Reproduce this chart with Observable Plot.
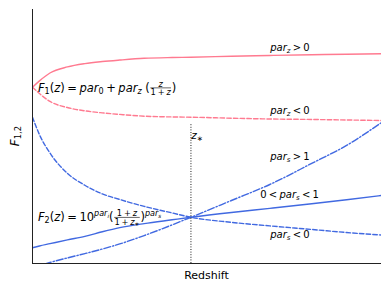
<!DOCTYPE html>
<html>
<head>
<meta charset="utf-8">
<script src="https://cdn.jsdelivr.net/npm/d3@7"></script>
<script src="https://cdn.jsdelivr.net/npm/@observablehq/plot@0.6"></script>
<style>
  html, body { margin: 0; padding: 0; background: #fff; }
  svg { display: block; font-family: "DejaVu Sans", sans-serif; }
</style>
</head>
<body>
<div id="chart"></div>
<script>
// ---- data ----
const redshift = [0, 0.2, 0.5, 1, 1.5, 2, 2.5, 3.2, 4, 4.54, 5.7, 6.8, 8, 9, 10];
const f1ParzPos = [6.94, 7.19, 7.50, 7.74, 7.87, 7.95, 8.01, 8.08, 8.11, 8.12, 8.16, 8.19, 8.22, 8.24, 8.26];
const f1ParzNeg = [6.94, 6.69, 6.38, 6.14, 6.01, 5.93, 5.87, 5.80, 5.77, 5.76, 5.72, 5.69, 5.67, 5.65, 5.63];
const f2ParsNeg = [5.76, 5.07, 4.35, 3.55, 3.08, 2.74, 2.52, 2.25, 1.99, 1.82, 1.62, 1.48, 1.34, 1.22, 1.12];
const f2ParsMid = [0.62, 0.69, 0.78, 0.93, 1.07, 1.25, 1.41, 1.57, 1.72, 1.82, 2.01, 2.17, 2.35, 2.51, 2.68];
const f2ParsBig = [-0.14, -0.08, 0.04, 0.22, 0.39, 0.57, 0.77, 1.10, 1.52, 1.82, 2.48, 3.11, 3.94, 4.65, 5.55];
const zStar = 4.54;
const zStarLineTop = 5.5;

// annotation texts (mini math markup) and their anchors in data units
const annTexts   = ["F_1(z) = par_0 + par_z~(\\frac{z}{1+z})",
                    "F_2(z) = 10^{par_i}(\\frac{1+z}{1+z_*})^{par_s}",
                    "par_z > 0", "par_z < 0", "par_s > 1", "0 < par_s < 1", "par_s < 0", "z_*"];
const annX       = [0.17, 0.17, 7.39, 7.39, 7.39, 7.38, 7.39, 4.56];
const annY       = [6.75, 1.65, 8.35, 5.87, 4.06, 2.56, 0.98, 4.87];
const annAnchor  = ["start", "start", "middle", "middle", "middle", "middle", "middle", "start"];
const annSize    = [11.5, 11.5, 10, 10, 10, 10, 10, 10.5];
const xLabel = "Redshift";
const yLabel = "F_{1,2}";

// ---- series table ----
const pink = "#ff7a90", blue = "#4169e1";
const series = [
  {name: "parz>0", values: f1ParzPos, color: pink, dash: null},
  {name: "parz<0", values: f1ParzNeg, color: pink, dash: "4.5,2.2"},
  {name: "pars<0", values: f2ParsNeg, color: blue, dash: "4.5,2.2"},
  {name: "0<pars<1", values: f2ParsMid, color: blue, dash: null},
  {name: "pars>1", values: f2ParsBig, color: blue, dash: "7,2,1.3,2"}
];

const W = 390, H = 293;
const marks = [];
for (const s of series) {
  const rows = redshift.map((z, i) => ({z, F: s.values[i]}));
  marks.push(Plot.line(rows, {x: "z", y: "F", curve: "monotone-x", stroke: s.color,
    strokeWidth: 1.4, strokeDasharray: s.dash, clip: true}));
}
marks.push(Plot.ruleX([zStar], {y1: 0, y2: zStarLineTop, stroke: "#000", strokeWidth: 0.9, strokeDasharray: "1,1.6"}));
marks.push(Plot.ruleX([0], {stroke: "#222", strokeWidth: 1}));
marks.push(Plot.ruleY([0], {stroke: "#222", strokeWidth: 1}));

const plot = Plot.plot({
  width: W, height: H,
  marginLeft: 32, marginRight: 9, marginTop: 9, marginBottom: 30,
  x: {domain: [0, 10], axis: null},
  y: {domain: [0, 10], axis: null},
  style: {background: "#fff", fontFamily: "DejaVu Sans"},
  marks
});
document.getElementById("chart").appendChild(plot);

// ---- small math-text renderer ----
const svgNS = "http://www.w3.org/2000/svg";
function mkText(s, size, it, fill) {
  const t = document.createElementNS(svgNS, "text");
  t.setAttribute("font-family", "DejaVu Sans");
  t.setAttribute("font-size", size);
  t.setAttribute("font-style", it ? "italic" : "normal");
  t.setAttribute("text-anchor", "start");
  if (fill) t.setAttribute("fill", fill);
  t.textContent = s;
  return t;
}
const probeHost = document.createElementNS(svgNS, "g");
plot.appendChild(probeHost);
function measure(s, size, it) {
  const t = mkText(s, size, it);
  probeHost.appendChild(t);
  const w = t.getComputedTextLength();
  t.remove();
  return w;
}
function parse(str) {
  let i = 0;
  function group() {
    const nodes = [];
    while (i < str.length && str[i] !== "}") nodes.push(...atom());
    return nodes;
  }
  function single() {
    if (str[i] === "{") { i++; const g = group(); i++; return g; }
    return atom();
  }
  function atom() {
    const c = str[i];
    if (c === "\\" && str.startsWith("\\frac", i)) {
      i += 5; const num = single(); const den = single();
      return [{type: "frac", num, den}];
    }
    if (c === "{") { i++; const g = group(); i++; return g; }
    if (c === "_" || c === "^") { i++; const g = single(); return [{type: c === "_" ? "sub" : "sup", g}]; }
    i++;
    if (c === " ") return [];
    if (c === "~") return [{type: "sp", w: 0.3}];
    if ("=+<>".includes(c)) return [{type: "op", t: c}];
    if (c === "*") return [{type: "ch", t: "\u2217", it: false}];
    if (/[a-zA-Z]/.test(c)) return [{type: "ch", t: c, it: true}];
    return [{type: "ch", t: c, it: false}];
  }
  return group();
}
function layout(nodes, size, dy, x0, out) {
  let x = x0;
  for (const n of nodes) {
    if (n.type === "ch") { out.push({t: n.t, x, dy, size, it: n.it}); x += measure(n.t, size, n.it); }
    else if (n.type === "op") { const sp = 0.22 * size; x += sp; out.push({t: n.t, x, dy, size, it: false}); x += measure(n.t, size, false) + sp; }
    else if (n.type === "sp") x += n.w * size;
    else if (n.type === "sub") x = layout(n.g, size * 0.7, dy + 0.2 * size, x, out);
    else if (n.type === "sup") x = layout(n.g, size * 0.7, dy - 0.42 * size, x, out);
    else if (n.type === "frac") {
      const s = size * 0.72;
      const tn = [], td = [];
      const wN = layout(n.num, s, 0, 0, tn), wD = layout(n.den, s, 0, 0, td);
      const w = Math.max(wN, wD) + 0.16 * size;
      const bar = dy - 0.32 * size;
      tn.forEach(o => out.push({...o, x: o.x + x + (w - wN) / 2, dy: o.dy + bar - 0.12 * size}));
      td.forEach(o => out.push({...o, x: o.x + x + (w - wD) / 2, dy: o.dy + bar + 0.1 * size + 0.72 * s}));
      out.push({line: true, x1: x + 0.06 * size, x2: x + w - 0.06 * size, y: bar});
      x += w;
    }
  }
  return x;
}
function drawMath(parent, str, px, py, size, anchor, rotate, fill) {
  const items = [];
  const w = layout(parse(str), size, 0, 0, items);
  const off = anchor === "middle" ? -w / 2 : anchor === "end" ? -w : 0;
  const g = document.createElementNS(svgNS, "g");
  g.setAttribute("transform", `translate(${px},${py})${rotate ? ` rotate(${rotate})` : ""}`);
  for (const o of items) {
    if (o.line) {
      const l = document.createElementNS(svgNS, "line");
      l.setAttribute("x1", o.x1 + off); l.setAttribute("x2", o.x2 + off);
      l.setAttribute("y1", o.y); l.setAttribute("y2", o.y);
      l.setAttribute("stroke", fill); l.setAttribute("stroke-width", 0.6);
      g.appendChild(l);
    } else {
      const t = mkText(o.t, o.size, o.it, fill);
      t.setAttribute("x", o.x + off); t.setAttribute("y", o.dy);
      g.appendChild(t);
    }
  }
  parent.appendChild(g);
}

const sx = plot.scale("x"), sy = plot.scale("y");
const layer = document.createElementNS(svgNS, "g");
plot.appendChild(layer);
annTexts.forEach((s, k) => {
  drawMath(layer, s, sx.apply(annX[k]), sy.apply(annY[k]), annSize[k], annAnchor[k], 0, "#000");
});
// axis labels
const xl = mkText(xLabel, 11, false, "#000");
xl.setAttribute("x", (sx.range[0] + sx.range[1]) / 2);
xl.setAttribute("y", H - 14.5);
xl.setAttribute("text-anchor", "middle");
layer.appendChild(xl);
drawMath(layer, yLabel, 18.5, (sy.range[0] + sy.range[1]) / 2, 12, "middle", -90, "#000");
probeHost.remove();
</script>
</body>
</html>
